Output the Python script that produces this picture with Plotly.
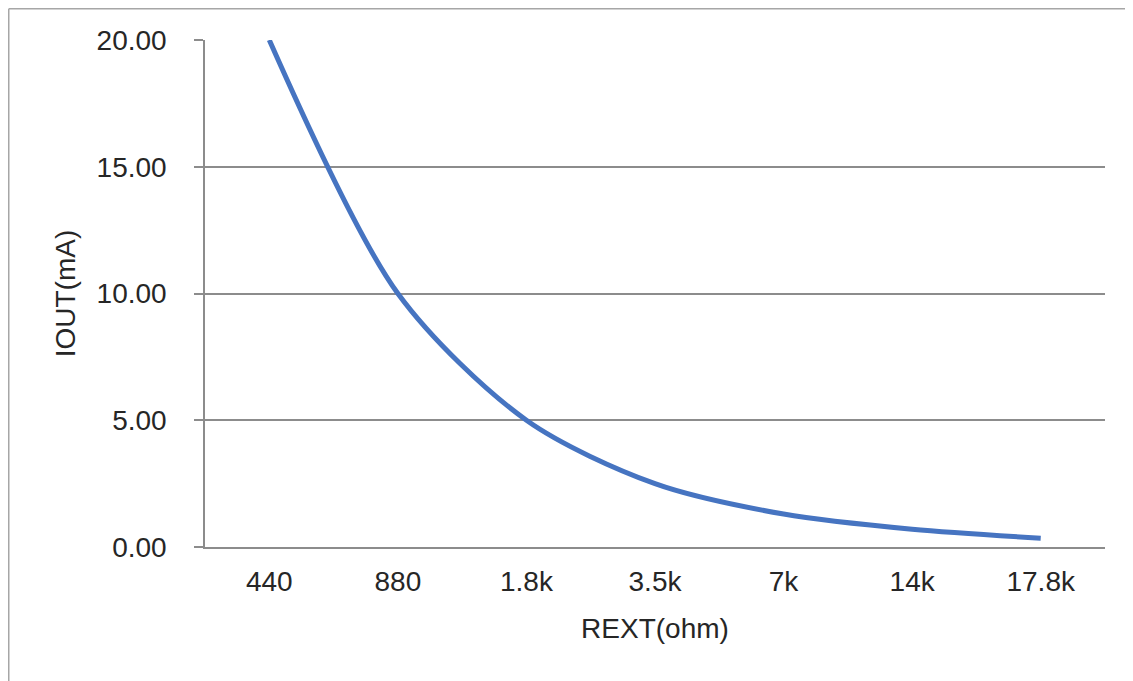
import plotly.graph_objects as go

rext_labels = ["440", "880", "1.8k", "3.5k", "7k", "14k", "17.8k"]
iout_ma = [20.0, 10.0, 5.0, 2.5, 1.3, 0.7, 0.35]

# page body has an 8px margin, so the figure is sized/offset to compensate
W, H = 1125, 673
L, R, T, B = 197, 28, 32, 134
pw, ph = W - L - R, H - T - B

def px(x):
    return (x - L) / pw

def py(y):
    return (H - B - y) / ph

fig = go.Figure()
fig.add_trace(go.Scatter(
    x=rext_labels, y=iout_ma, mode="lines",
    line=dict(color="#4674c1", width=5, shape="spline", smoothing=0.85),
    showlegend=False, hoverinfo="x+y",
))

grid = "#8c8c8c"
font = dict(family="Liberation Sans, Arial, sans-serif", size=28, color="#262626")

fig.update_layout(
    width=W, height=H,
    margin=dict(l=L, r=R, t=T, b=B),
    paper_bgcolor="white", plot_bgcolor="white",
    font=font,
    xaxis=dict(
        type="category", range=[-0.5, 6.5],
        showline=True, linecolor=grid, linewidth=1.5,
        showgrid=False, ticks="", zeroline=False,
        ticklabelstandoff=9,
        title=dict(text="REXT(ohm)", font=font, standoff=22),
    ),
    yaxis=dict(
        range=[0, 20], dtick=5, tickformat=".2f",
        showline=True, linecolor=grid, linewidth=1.5,
        showgrid=True, gridcolor=grid, gridwidth=1.5,
        ticks="outside", ticklen=9, tickcolor=grid, tickwidth=1.5,
        zeroline=False, ticklabelstandoff=22,
        title=dict(text="IOUT(mA)", font=font, standoff=13),
    ),
    shapes=[
        dict(type="line", xref="paper", yref="paper",
             x0=px(0.75), x1=px(W + 5), y0=py(0.75), y1=py(0.75),
             line=dict(color="#a6a6a6", width=1.5)),
        dict(type="line", xref="paper", yref="paper",
             x0=px(0.75), x1=px(0.75), y0=py(0.75), y1=py(H + 5),
             line=dict(color="#a6a6a6", width=1.5)),
    ],
)

fig.write_html("out.html")
